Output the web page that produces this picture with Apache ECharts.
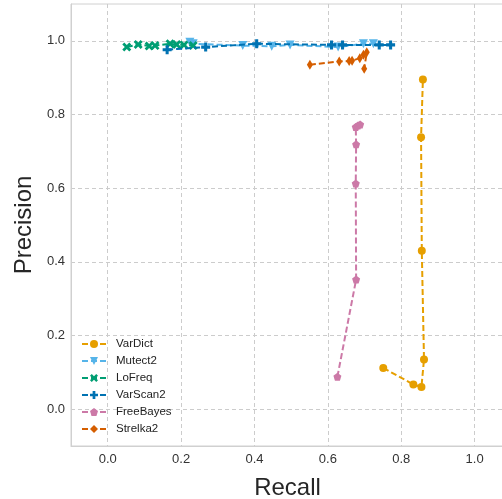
<!DOCTYPE html>
<html>
<head>
<meta charset="utf-8">
<script src="https://cdn.jsdelivr.net/npm/echarts@6/dist/echarts.min.js"></script>
<style>
  html, body { margin: 0; padding: 0; background: #fff; }
  #chart { width: 502px; height: 499px; }
</style>
</head>
<body>
<div id="chart"></div>
<script>
// Precision / recall per caller, one point per threshold
const callers = ["VarDict", "Mutect2", "LoFreq", "VarScan2", "FreeBayes", "Strelka2"];

const vardictRecall    = [0.751, 0.833, 0.855, 0.862, 0.856, 0.854, 0.859];
const vardictPrecision = [0.112, 0.067, 0.060, 0.135, 0.430, 0.738, 0.895];

const mutectRecall    = [0.224, 0.233, 0.368, 0.447, 0.497, 0.628, 0.697, 0.724];
const mutectPrecision = [0.996, 0.992, 0.987, 0.985, 0.989, 0.983, 0.992, 0.992];

const lofreqRecall    = [0.052, 0.083, 0.113, 0.129, 0.170, 0.188, 0.208, 0.233];
const lofreqPrecision = [0.983, 0.990, 0.986, 0.987, 0.992, 0.990, 0.989, 0.987];

const varscanRecall    = [0.162, 0.267, 0.406, 0.610, 0.640, 0.740, 0.771];
const varscanPrecision = [0.976, 0.983, 0.992, 0.989, 0.989, 0.989, 0.989];

const freebayesRecall    = [0.626, 0.677, 0.676, 0.677, 0.676, 0.682, 0.688];
const freebayesPrecision = [0.088, 0.352, 0.613, 0.719, 0.766, 0.770, 0.773];

const strelkaRecall    = [0.551, 0.631, 0.658, 0.666, 0.687, 0.697, 0.706, 0.699];
const strelkaPrecision = [0.935, 0.944, 0.945, 0.946, 0.953, 0.962, 0.969, 0.924];

const tickValues = [0.0, 0.2, 0.4, 0.6, 0.8, 1.0];

const recallSets = [vardictRecall, mutectRecall, lofreqRecall, varscanRecall, freebayesRecall, strelkaRecall];
const precisionSets = [vardictPrecision, mutectPrecision, lofreqPrecision, varscanPrecision, freebayesPrecision, strelkaPrecision];

const colors = ["#E69F00", "#56B4E9", "#009E73", "#0072B2", "#CC79A7", "#D55E00"];
const symbols = [
  "circle",
  "path://M0,0 L10,0 L5,9 Z",
  "path://M2.2,0 L5,2.8 L7.8,0 L10,2.2 L7.2,5 L10,7.8 L7.8,10 L5,7.2 L2.2,10 L0,7.8 L2.8,5 L0,2.2 Z",
  "path://M3.3,0 H6.7 V3.3 H10 V6.7 H6.7 V10 H3.3 V6.7 H0 V3.3 H3.3 Z",
  "path://M5,0 L9.76,3.45 L7.94,9.05 L2.06,9.05 L0.24,3.45 Z",
  "path://M3,0 L6,5 L3,10 L0,5 Z"
];
const symbolSizes = [8, 9, 9, 9, 8, [6, 10]];

const fontFamily = "Liberation Sans, Arial, sans-serif";

const series = callers.map((name, i) => ({
  name: name,
  type: "line",
  data: recallSets[i].map((r, k) => [r, precisionSets[i][k]]),
  symbol: symbols[i],
  symbolSize: symbolSizes[i],
  showSymbol: true,
  color: colors[i],
  itemStyle: { color: colors[i], borderWidth: 0 },
  lineStyle: { color: colors[i], width: 2, type: [6, 3] },
  animation: false,
  z: 2 + i
}));

const chart = echarts.init(document.getElementById("chart"), null, { renderer: "canvas" });

chart.setOption({
  backgroundColor: "#ffffff",
  animation: false,
  textStyle: { fontFamily: fontFamily },
  grid: {
    left: 71, top: 4, width: 433, height: 442,
    outerBoundsMode: "none",
    show: true, borderColor: "#d0d0d0", borderWidth: 1, containLabel: false
  },
  legend: {
    orient: "vertical",
    left: 76, top: 333,
    itemWidth: 24, itemHeight: 10, itemGap: 5,
    textStyle: { fontSize: 11.5, color: "#222", fontFamily: fontFamily, padding: [0, 0, 0, 5] },
    data: callers
  },
  xAxis: {
    type: "value",
    min: -0.1, max: 1.08,
    name: "Recall",
    nameLocation: "middle",
    nameGap: 30,
    nameTextStyle: { fontSize: 24, color: "#262626", fontFamily: fontFamily },
    axisLine: { show: true, onZero: false, lineStyle: { color: "#d0d0d0", width: 1 } },
    axisTick: { show: false, customValues: tickValues },
    axisLabel: {
      customValues: tickValues, fontSize: 13, color: "#333", margin: 7,
      formatter: v => v.toFixed(1)
    },
    splitLine: { show: true, lineStyle: { color: "#cccccc", type: [4, 3], width: 1 } }
  },
  yAxis: {
    type: "value",
    min: -0.1, max: 1.1,
    name: "Precision",
    nameLocation: "middle",
    nameGap: 35,
    nameTextStyle: { fontSize: 24, color: "#262626", fontFamily: fontFamily },
    axisLine: { show: true, onZero: false, lineStyle: { color: "#d0d0d0", width: 1 } },
    axisTick: { show: false, customValues: tickValues },
    axisLabel: {
      customValues: tickValues, fontSize: 13, color: "#333", margin: 6,
      formatter: v => v.toFixed(1)
    },
    splitLine: { show: true, lineStyle: { color: "#cccccc", type: [4, 3], width: 1 } }
  },
  series: series
});
</script>
</body>
</html>
